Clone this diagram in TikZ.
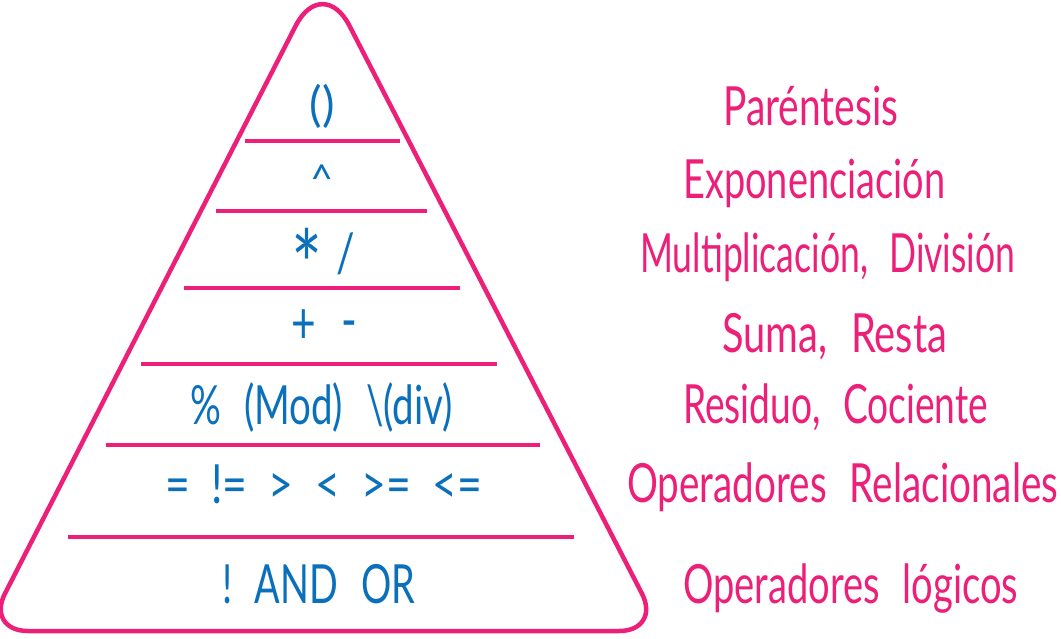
\documentclass[tikz,border=0pt]{standalone}
\usepackage{fontspec}
\setmainfont{Lato}
\usepackage{graphicx}
\definecolor{pk}{HTML}{EC1F79}
\definecolor{bl}{HTML}{0B70BC}
\newsavebox\fitbox
\newcommand\fitto[2]{\sbox\fitbox{#2}\pgfmathsetmacro\fitsx{#1/\the\wd\fitbox}\scalebox{\fitsx}[1]{\usebox\fitbox}}
\newcommand\gap{\hspace{0.6em}}
\newcommand\wgap{\hspace{0.5em}}
\tikzset{
  lab/.style={text=pk, font=\fontsize{54}{60}\selectfont, inner sep=0pt, anchor=base west},
  op/.style={text=bl, font=\fontsize{54}{60}\selectfont, inner sep=0pt, anchor=base},
  tier/.style={draw=pk, line width=4pt},
  outline/.style={draw=pk, line width=4.5pt, line join=round}
}
\begin{document}
\begin{tikzpicture}[x=1pt, y=-1pt]
\useasboundingbox (0,0) rectangle (1061,638);
% pyramid outline
\coordinate (apex) at (322.5,-26.6);
\coordinate (bl) at (-14.2,631);
\coordinate (br) at (661.2,631);
\coordinate (ml) at (145,320);
\coordinate (mr) at (501,320);
\draw[outline] (ml) [rounded corners=59pt] -- (apex) -- (mr) [rounded corners=42pt] -- (br) -- (bl) -- cycle;
% tiers
\draw[tier] (245,141) -- (400,141);
\draw[tier] (216,211) -- (427,211);
\draw[tier] (184,288) -- (460,288);
\draw[tier] (141,364) -- (497,364);
\draw[tier] (106,445) -- (540,445);
\draw[tier] (68,537) -- (574,537);
% operators
\node[op, font=\fontsize{48}{56}\selectfont, anchor=center] (o1) at (322,106) {\fitto{25}{()}};
\node[op, font=\fontsize{40}{46}\selectfont] (o2) at (322,193) {\^{}};
\node[op] (o3) at (323,272) {\fitto{64}{{\fontsize{96}{96}\selectfont\raisebox{-28pt}[0pt][0pt]{*}}\hspace{0.35em}/}};
\node[op, font=\fontsize{58}{64}\selectfont] (o4) at (324,343) {\fitto{66}{+\gap\raisebox{3pt}{-}}};
\node[op] (o5) at (321.5,424) {\fitto{263}{\%\gap(Mod)\gap\textbackslash(div)}};
\node[op] (o6) at (323.5,503) {\fitto{317}{=\wgap!=\wgap>\wgap<\wgap>=\wgap<=}};
\node[op] (o7) at (318.5,603) {\fitto{193}{!\gap AND\gap OR}};
% labels
\node[lab] (l1) at (723,125) {\fitto{175}{Paréntesis}};
\node[lab] (l2) at (683,198) {\fitto{262}{Exponenciación}};
\node[lab] (l3) at (640,272) {\fitto{375}{Multiplicación,\gap División}};
\node[lab] (l4) at (722,352) {\fitto{225}{Suma,\gap Resta}};
\node[lab] (l5) at (683,423) {\fitto{305}{Residuo,\gap Cociente}};
\node[lab] (l6) at (627,502) {\fitto{431}{Operadores\gap Relacionales}};
\node[lab] (l7) at (683,603) {\fitto{335}{Operadores\gap lógicos}};
\end{tikzpicture}
\end{document}
